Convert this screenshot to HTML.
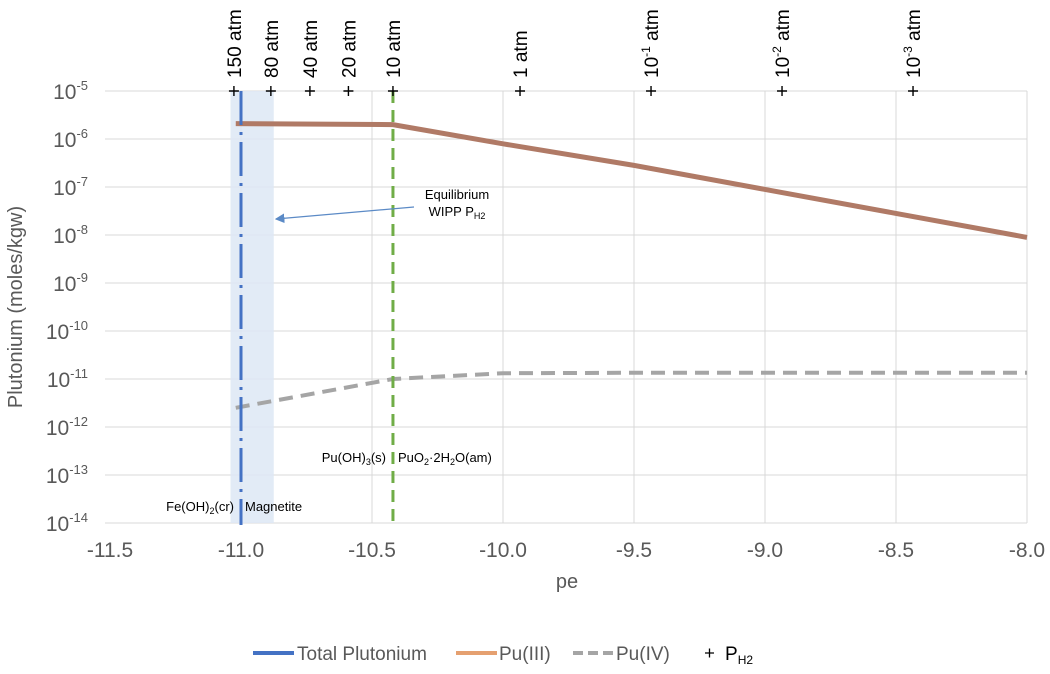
<!DOCTYPE html>
<html><head><meta charset="utf-8"><style>
body{margin:0;background:#fff;}
svg{display:block;font-family:"Liberation Sans",sans-serif;}
</style></head><body>
<svg id="chart" width="1050" height="674" viewBox="0 0 1050 674">
<g id="grid"></g><g id="marks"></g><g id="labels"></g>
</svg>
<script>
const xTicks=[-11.5,-11.0,-10.5,-10.0,-9.5,-9.0,-8.5,-8.0];
const yExps=[-5,-6,-7,-8,-9,-10,-11,-12,-13,-14];
const pu3Pe=[-11.02,-10.42,-10.0,-9.5,-9.0,-8.5,-8.0];
const pu3Log=[-5.68,-5.70,-6.1,-6.55,-7.05,-7.55,-8.05];
const pu4Pe=[-11.02,-10.42,-10.0,-9.5,-9.0,-8.5,-8.0];
const pu4Log=[-11.6,-11.0,-10.88,-10.87,-10.87,-10.87,-10.87];
const ph2Pe=[-11.027,-10.886,-10.737,-10.59,-10.42,-9.935,-9.435,-8.935,-8.435];
const ph2Labels=["150 atm","80 atm","40 atm","20 atm","10 atm","1 atm","10^-1 atm","10^-2 atm","10^-3 atm"];
const totalPe=-11.0;
const boundaryPe=-10.42;
const bandPe=[-11.04,-10.875];

const NS="http://www.w3.org/2000/svg";
const X=pe=>110+(pe+11.5)*262;
const Y=l=>91+(-5-l)*48;
function mk(tag,attrs,parent){const e=document.createElementNS(NS,tag);for(const k in attrs)e.setAttribute(k,attrs[k]);parent.appendChild(e);return e;}
const grid=document.getElementById('grid'),marks=document.getElementById('marks'),labels=document.getElementById('labels');

yExps.forEach(e=>{
 const l=mk('line',{x1:105,x2:X(-8),y1:Y(e),y2:Y(e),stroke:'#d9d9d9','stroke-width':1},grid);
 
 
 const t=mk('text',{x:88,y:Y(e)+8,'text-anchor':'end','font-size':21,fill:'#595959'},labels);
 
 
 t.innerHTML='10<tspan dy="-9" font-size="13">'+e+'</tspan>';
});
xTicks.forEach(v=>{
 if(v>-11.5){const l=mk('line',{x1:X(v),x2:X(v),y1:91,y2:Y(-14),stroke:'#d9d9d9','stroke-width':1},grid);
 
 }
 const t=mk('text',{x:X(v),y:557,'text-anchor':'middle','font-size':21,fill:'#595959'},labels);
 
 
 t.textContent=v.toFixed(1);
});
const ax=mk('line',{x1:105,x2:X(-8),y1:Y(-14),y2:Y(-14),stroke:'#d9d9d9','stroke-width':1},grid);



const band=mk('rect',{x:X(bandPe[0]),y:91,width:X(bandPe[1])-X(bandPe[0]),height:Y(-14)-91,fill:'#dde8f5',opacity:0.85},marks);



const pu3=mk('polyline',{points:pu3Pe.map((p,i)=>X(p)+','+Y(pu3Log[i])).join(' '),fill:'none',stroke:'#b07a66','stroke-width':5},marks);


const pu4=mk('polyline',{points:pu4Pe.map((p,i)=>X(p)+','+Y(pu4Log[i])).join(' '),fill:'none',stroke:'#a5a5a5','stroke-width':4,'stroke-dasharray':'14,8'},marks);



const tot=mk('line',{x1:X(totalPe),x2:X(totalPe),y1:91,y2:Y(-14)+2,stroke:'#4472c4','stroke-width':3,'stroke-dasharray':'34,7,3,7'},marks);


const gb=mk('line',{x1:X(boundaryPe),x2:X(boundaryPe),y1:91,y2:Y(-14)+2,stroke:'#70ad47','stroke-width':3,'stroke-dasharray':'12,7'},marks);



ph2Pe.forEach((p,i)=>{
 const m=mk('path',{d:'M'+(X(p)-5)+',91 h10 M'+X(p)+',86 v10',stroke:'#000','stroke-width':1.4},marks);
 
 
 const t=mk('text',{x:0,y:0,'font-size':19,fill:'#000',transform:'translate('+(X(p)+7)+',78) rotate(-90)'},labels);
 
 
 const s=ph2Labels[i];
 if(s.startsWith('10^')){const ex=s.slice(3).split(' ')[0];t.innerHTML='10<tspan dy="-8" font-size="12">'+ex+'</tspan><tspan dy="8"> atm</tspan>';}
 else t.textContent=s;
});
</script>
<script>
const svg=document.getElementById('chart');
svg.insertAdjacentHTML('beforeend',`
<defs><marker id="ah" markerWidth="8" markerHeight="8" refX="7" refY="4" orient="auto"><path d="M0,0 L8,4 L0,8 z" fill="#5b8ac6"/></marker></defs>
<line x1="414" y1="207" x2="276" y2="219" stroke="#5b8ac6" stroke-width="1.2" marker-end="url(#ah)"/>
<text font-size="13" text-anchor="middle"><tspan x="457" y="199">Equilibrium</tspan><tspan x="457" y="216">WIPP P<tspan font-size="9" dy="3">H2</tspan></tspan></text>
<text x="386" y="462" font-size="13" text-anchor="end">Pu(OH)<tspan font-size="9" dy="3">3</tspan><tspan dy="-3">(s)</tspan></text>
<text x="398" y="462" font-size="13">PuO<tspan font-size="9" dy="3">2</tspan><tspan dy="-3">·2H</tspan><tspan font-size="9" dy="3">2</tspan><tspan dy="-3">O(am)</tspan></text>
<text x="234" y="511" font-size="13" text-anchor="end">Fe(OH)<tspan font-size="9" dy="3">2</tspan><tspan dy="-3">(cr)</tspan></text>
<text x="245" y="511" font-size="13">Magnetite</text>
<text x="567" y="588" font-size="20" fill="#595959" text-anchor="middle">pe</text>
<text transform="translate(22,307) rotate(-90)" font-size="20" fill="#595959" text-anchor="middle">Plutonium (moles/kgw)</text>
<g font-size="19" fill="#595959">
<line x1="253" x2="294" y1="653" y2="653" stroke="#4472c4" stroke-width="4"/><text x="297" y="660">Total Plutonium</text>
<line x1="456" x2="497" y1="653" y2="653" stroke="#e5a070" stroke-width="4"/><text x="499" y="660">Pu(III)</text>
<line x1="573" x2="614" y1="653" y2="653" stroke="#a5a5a5" stroke-width="4" stroke-dasharray="10,5"/><text x="616" y="660">Pu(IV)</text>
<path d="M705,653 h9 M709.5,648.5 v9" stroke="#000" stroke-width="1.3"/><text x="725" y="660" fill="#000">P<tspan font-size="12" dy="4">H2</tspan></text>
</g>`);
</script>
</body></html>
